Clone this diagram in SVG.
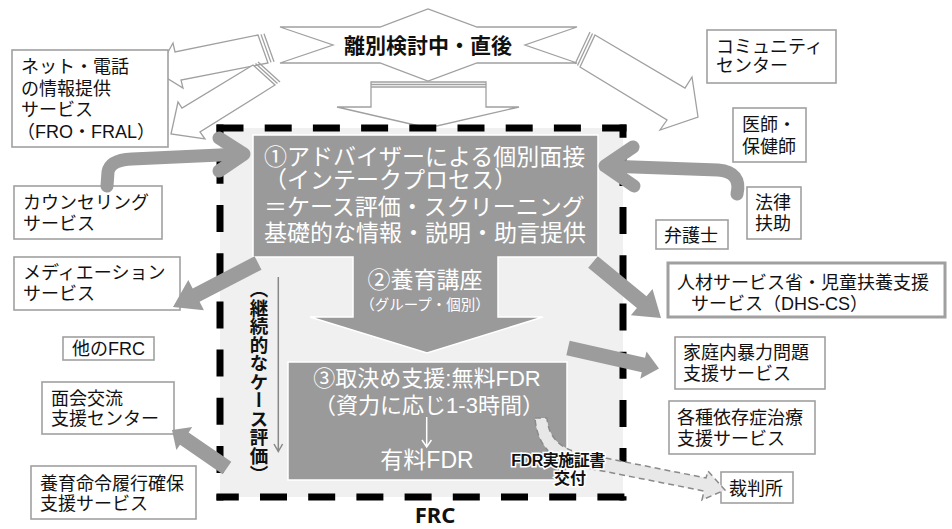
<svg xmlns="http://www.w3.org/2000/svg" width="952" height="529" viewBox="0 0 952 529">
<style>
.box{fill:#fff;stroke:#a0a0a0;stroke-width:1.6}
.t{font-family:"Liberation Sans","Noto Sans CJK JP",sans-serif;font-size:18px;fill:#111}
.w{font-family:"Liberation Sans","Noto Sans CJK JP",sans-serif;font-size:23px;fill:#fff}
.hollow{fill:#fff;stroke:#a0a0a0;stroke-width:1.3}
.stripe{fill:none;stroke:#a0a0a0;stroke-width:1.3}
.thick{fill:#9c9c9c}
.curve{fill:none;stroke:#9c9c9c;stroke-width:13;stroke-linecap:round;stroke-linejoin:round}
.dash{fill:none;stroke:#000;stroke-width:7;stroke-dasharray:27 21.2}
</style>
<rect width="952" height="529" fill="#fff"/>
<rect id="frc-area" x="220" y="128" width="403" height="369" fill="#eff0ef"/>

<g id="banner">
<polygon class="hollow" points="280,27 380,27 428,9 477,27 577,27 525,45 577,63 477,63 428,81 380,63 280,63 333,45"/>
<text class="t" x="428" y="52.5" text-anchor="middle" style="font-size:21px;font-weight:bold">離別検討中・直後</text>
</g>

<g id="connectors-hollow">
<polygon class="hollow" points="258,35 175,52 173,43 157,72 183,88 181,80 268,63"/>
<line class="stripe" x1="261" y1="34.4" x2="271" y2="62.4"/>
<line class="stripe" x1="264" y1="33.8" x2="274" y2="61.8"/>
<polygon class="hollow" points="253,65 182,108 178,102 171,134 205,139 200,132 275,85"/>
<line class="stripe" x1="255.5" y1="63.5" x2="277.5" y2="83.5"/>
<line class="stripe" x1="258" y1="62" x2="280" y2="82"/>
<polygon class="hollow" points="595,35 685,88 692,77 698,117 660,130 667,120 580,67"/>
<line class="stripe" x1="592.5" y1="33.5" x2="577.5" y2="65.5"/>
<line class="stripe" x1="590" y1="32" x2="575" y2="64"/>
<polygon class="hollow" points="371,82 486,82 486,107 519,107 428,128 337,107 371,107"/>
<line class="stripe" x1="371" y1="84.5" x2="486" y2="84.5"/>
<line class="stripe" x1="371" y1="87" x2="486" y2="87"/>
</g>

<g id="net-phone">
<rect class="box" x="12" y="50" width="156" height="97"/>
<text class="t" x="21" y="73">ネット・電話</text>
<text class="t" x="21" y="94.5">の情報提供</text>
<text class="t" x="21" y="116">サービス</text>
<text class="t" x="17" y="137.5">（FRO・FRAL）</text>
</g>
<g id="community">
<rect class="box" x="707" y="30" width="129" height="53"/>
<text class="t" x="716" y="53">コミュニティ</text>
<text class="t" x="716" y="71.5">センター</text>
</g>
<g id="doctor">
<rect class="box" x="733" y="108" width="73" height="54"/>
<text class="t" x="742" y="131">医師・</text>
<text class="t" x="742" y="153">保健師</text>
</g>
<g id="counseling">
<rect class="box" x="14" y="186" width="148" height="53"/>
<text class="t" x="23" y="208.5">カウンセリング</text>
<text class="t" x="23" y="230">サービス</text>
</g>
<g id="mediation">
<rect class="box" x="14" y="257" width="166" height="53"/>
<text class="t" x="23" y="278.5">メディエーション</text>
<text class="t" x="23" y="300">サービス</text>
</g>
<g id="other-frc">
<rect class="box" x="63" y="337" width="91" height="23"/>
<text class="t" x="72" y="354.5">他のFRC</text>
</g>
<g id="visitation">
<rect class="box" x="42" y="382" width="132" height="52"/>
<text class="t" x="51" y="405">面会交流</text>
<text class="t" x="51" y="425">支援センター</text>
</g>
<g id="child-support">
<rect class="box" x="31" y="466" width="165" height="53"/>
<text class="t" x="40" y="490">養育命令履行確保</text>
<text class="t" x="40" y="510">支援サービス</text>
</g>
<g id="legal-aid">
<rect class="box" x="747" y="187" width="54" height="52"/>
<text class="t" x="755" y="208.5">法律</text>
<text class="t" x="755" y="230">扶助</text>
</g>
<g id="lawyer">
<rect class="box" x="656" y="220" width="72" height="29"/>
<text class="t" x="664" y="241.5">弁護士</text>
</g>
<g id="dhs-cs">
<rect class="box" x="668" y="263" width="277" height="54" style="stroke-width:3"/>
<text class="t" x="677" y="288.5">人材サービス省・児童扶養支援</text>
<text class="t" x="691" y="309.5">サービス（DHS-CS）</text>
</g>
<g id="dv">
<rect class="box" x="675" y="337" width="150" height="52"/>
<text class="t" x="683" y="358.5">家庭内暴力問題</text>
<text class="t" x="683" y="380">支援サービス</text>
</g>
<g id="addiction">
<rect class="box" x="669" y="401" width="146" height="53"/>
<text class="t" x="677" y="423.5">各種依存症治療</text>
<text class="t" x="677" y="445">支援サービス</text>
</g>
<g id="court">
<rect class="box" x="721" y="472" width="72" height="31"/>
<text class="t" x="729" y="494.5">裁判所</text>
</g>

<g id="step1-2">
<polygon points="253,135 598,135 598,257 498,257 498,317 543,317 427,353 310,317 353,317 353,257 253,257" fill="#9a9a9a" stroke="#fff" stroke-width="1.5"/>
<text class="w" x="264" y="164.5">①アドバイザーによる個別面接</text>
<text class="w" x="264" y="188">（インテークプロセス）</text>
<text class="w" x="264" y="214.5">＝ケース評価・スクリーニング</text>
<text class="w" x="264" y="241">基礎的な情報・説明・助言提供</text>
<text class="w" x="425" y="288" text-anchor="middle">②養育講座</text>
<text class="w" x="425" y="310" text-anchor="middle" style="font-size:14.5px">（グループ・個別）</text>
</g>
<g id="step3">
<rect x="288" y="362" width="279" height="118" fill="#9a9a9a" stroke="#fff" stroke-width="1.5"/>
<text class="w" x="427" y="386" text-anchor="middle" style="font-size:22px">③取決め支援:無料FDR</text>
<text class="w" x="429" y="412.5" text-anchor="middle" style="font-size:22px">（資力に応じ1-3時間）</text>
<path d="M426.7,417 V447 M422,440 L426.7,447 L431.4,440" fill="none" stroke="#fff" stroke-width="1.5"/>
<text class="w" x="427" y="468" text-anchor="middle">有料FDR</text>
</g>

<g id="frc-border">
<line class="dash" x1="216.5" y1="128" x2="626.5" y2="128"/>
<line class="dash" x1="623" y1="124.5" x2="623" y2="500.5" style="stroke-dashoffset:13.8"/>
<line class="dash" x1="216.5" y1="497" x2="626.5" y2="497" style="stroke-dashoffset:4.7"/>
<line class="dash" x1="220" y1="124.5" x2="220" y2="500.5" style="stroke-dashoffset:15.9"/>
<text x="435" y="522.5" text-anchor="middle" style="font-family:'Noto Sans','Open Sans',sans-serif;font-size:22px;font-weight:bold;fill:#111">FRC</text>
</g>

<g id="continuous-eval">
<text x="259" y="280" style="writing-mode:vertical-rl;font-family:'Noto Sans CJK JP',sans-serif;font-size:18.5px;font-weight:bold;fill:#111">（継続的なケース評価）</text>
<path d="M278.3,277 V451 M274,444 L278.3,451.5 L282.6,444" fill="none" stroke="#888" stroke-width="1.5"/>
</g>

<g id="connectors">
<polygon class="thick" points="254.6,256.3 192.7,288.4 188.3,280 173,307 203.9,310.2 199.6,301.8 261.5,269.7"/>
<polygon class="thick" points="597.8,256.2 646.5,296.3 652.5,289 661,318 630.9,315.2 636.9,307.9 588.2,267.8"/>
<polygon class="thick" points="569.65,340.7 645.05,357.7 646.5,351.4 659,368.5 640.3,378.7 641.75,372.3 566.35,355.3"/>
<polygon class="thick" points="231.3,461.8 188.6,432.4 192.25,427 172,430 176.35,450.1 180,444.7 222.7,474.2"/>
<path class="curve" d="M107,186 L108,172 Q110,160 132,159 L242,154"/>
<path class="curve" d="M219,138 L244,154 L219,171"/>
<path class="curve" d="M737,194 Q742,172 718,170 L606,166"/>
<path class="curve" d="M633,147 L605,166 L634,186"/>
<path d="M535,418 L547,418 Q549,446 580,453 L706,478 L708,471 L725,490 L702,500 L704,491 L577,466 Q538,457 535,418 Z" fill="#e8e8e8" stroke="#8a8a8a" stroke-width="1.5" stroke-dasharray="6 4"/>
</g>
<g id="fdr-cert">
<text x="558" y="466" text-anchor="middle" style="font-family:'Liberation Sans','Noto Sans CJK JP',sans-serif;font-size:16px;font-weight:bold;fill:#111;stroke:#fff;stroke-width:3;paint-order:stroke;letter-spacing:-0.5px">FDR実施証書</text>
<text x="570" y="484" text-anchor="middle" style="font-family:'Liberation Sans','Noto Sans CJK JP',sans-serif;font-size:16px;font-weight:bold;fill:#111;stroke:#fff;stroke-width:3;paint-order:stroke">交付</text>
</g>
</svg>
